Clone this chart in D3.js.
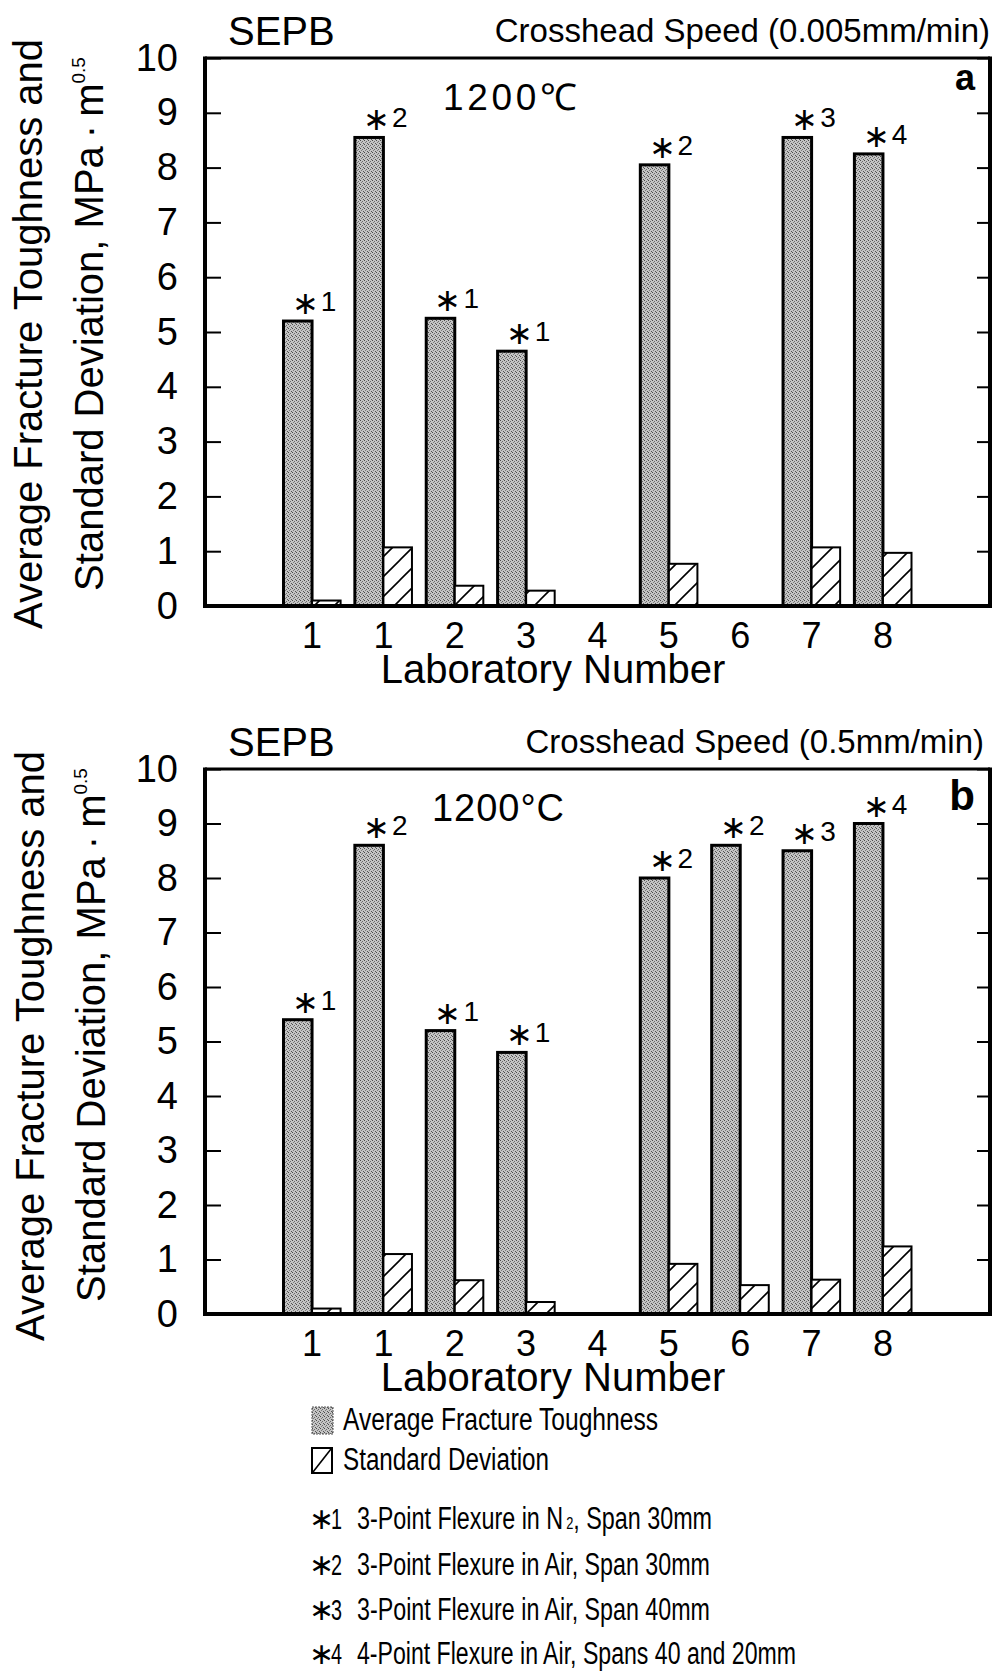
<!DOCTYPE html>
<html><head><meta charset="utf-8">
<script src="https://cdn.jsdelivr.net/npm/d3@7"></script>
<style>
body{margin:0;background:#fff}
svg{display:block}
text{font-family:"Liberation Sans",Arial,Helvetica,sans-serif;fill:#000}
</style>
</head><body>
<svg id="chart" width="996" height="1671"></svg>
<script>
// ---------- data ----------
const labLabels = ["1","1","2","3","4","5","6","7","8"];
const yTicks = [0,1,2,3,4,5,6,7,8,9,10];
// panel a : crosshead speed 0.005 mm/min
const avgA   = [5.2, 8.55, 5.25, 4.65, 0, 8.05, 0, 8.55, 8.25];
const sdA    = [0.1, 1.07, 0.37, 0.28, 0, 0.77, 0, 1.07, 0.97];
const notesA = ["1","2","1","1","","2","","3","4"];
// panel b : crosshead speed 0.5 mm/min
const avgB   = [5.4, 8.6, 5.2, 4.8, 0, 8.0, 8.6, 8.5, 9.0];
const sdB    = [0.1, 1.1, 0.62, 0.22, 0, 0.92, 0.53, 0.63, 1.24];
const notesB = ["1","2","1","1","","2","2","3","4"];
const legendSeries = ["Average Fracture Toughness","Standard Deviation"];
const noteKeys  = ["1","2","3","4"];
const noteTexts = ["3-Point Flexure in N|2|, Span 30mm","3-Point Flexure in Air, Span 30mm","3-Point Flexure in Air, Span 40mm","4-Point Flexure in Air, Spans 40 and 20mm"];

// ---------- drawing ----------
const svg = d3.select("#chart");
svg.append("rect").attr("width",996).attr("height",1671).attr("fill","#fff");
const defs = svg.append("defs");
const st = defs.append("pattern").attr("id","stipple").attr("width",4).attr("height",4).attr("patternUnits","userSpaceOnUse");
st.append("rect").attr("width",4).attr("height",4).attr("fill","#c4c4c4");
[[0,0,"#4a4a4a"],[2,1,"#6a6a6a"],[1,2,"#7a7a7a"],[3,3,"#555"]].forEach(p=>st.append("rect").attr("x",p[0]).attr("y",p[1]).attr("width",1).attr("height",1).attr("fill",p[2]));
const ht = defs.append("pattern").attr("id","hatch").attr("width",20).attr("height",20).attr("patternUnits","userSpaceOnUse");
ht.append("rect").attr("width",20).attr("height",20).attr("fill","#fff");
ht.append("path").attr("d","M0,20L20,0M-5,5L5,-5M15,25L25,15").attr("stroke","#000").attr("stroke-width",1.6);

const L = 205, R = 990;

function drawPanel(cfg){
  const g = svg.append("g");
  const x0 = d3.scaleBand().domain(d3.range(labLabels.length)).range([L,R]).paddingInner(0.2).paddingOuter(1.1);
  const x1 = d3.scaleBand().domain(["avg","sd"]).range([0,x0.bandwidth()]);
  const y = d3.scaleLinear().domain([0,10]).range([cfg.bottom,cfg.top]);
  const rows = labLabels.map((l,i)=>({i,avg:cfg.avg[i],sd:cfg.sd[i],note:cfg.notes[i]}));

  g.selectAll(".avg").data(rows.filter(d=>d.avg>0)).join("rect").attr("class","avg")
    .attr("x",d=>x0(d.i)+x1("avg")).attr("y",d=>y(d.avg))
    .attr("width",x1.bandwidth()).attr("height",d=>y(0)-y(d.avg))
    .attr("fill","url(#stipple)").attr("stroke","#000").attr("stroke-width",3);
  g.selectAll(".sd").data(rows.filter(d=>d.sd>0)).join("rect").attr("class","sd")
    .attr("x",d=>x0(d.i)+x1("sd")).attr("y",d=>y(d.sd))
    .attr("width",x1.bandwidth()).attr("height",d=>y(0)-y(d.sd))
    .attr("fill","url(#hatch)").attr("stroke","#000").attr("stroke-width",2);

  const nt = g.selectAll(".note").data(rows.filter(d=>d.note)).join("text").attr("class","note")
    .attr("x",d=>x0(d.i)+x0.bandwidth()/2+2).attr("y",d=>y(d.avg)-10)
    .attr("text-anchor","middle").attr("font-size",28);
  nt.append("tspan").attr("font-size",32).attr("dy",3).text("\u2217");
  nt.append("tspan").attr("dx",2).attr("dy",-3).text(d=>d.note);

  // axes
  const ya = g.append("g").attr("transform",`translate(${L},0)`)
    .call(d3.axisLeft(y).tickValues(yTicks).tickSize(-16).tickPadding(27));
  ya.select(".domain").remove();
  ya.selectAll("line").attr("stroke-width",2);
  ya.selectAll("text").attr("font-size",38).attr("font-family",null);
  const yr = g.append("g").attr("transform",`translate(${R},0)`)
    .call(d3.axisRight(y).tickValues(yTicks).tickSize(-13).tickFormat(""));
  yr.select(".domain").remove();
  yr.selectAll("line").attr("stroke-width",2);
  const xa = g.append("g").attr("transform",`translate(0,${cfg.bottom})`)
    .call(d3.axisBottom(x0).tickSize(0).tickPadding(16).tickFormat(i=>labLabels[i]));
  xa.select(".domain").remove();
  xa.selectAll("text").attr("font-size",36).attr("font-family",null);

  // frame
  g.append("line").attr("x1",L).attr("x2",R).attr("y1",cfg.top).attr("y2",cfg.top).attr("stroke","#000").attr("stroke-width",3);
  g.append("line").attr("x1",L).attr("x2",L).attr("y1",cfg.top-1.5).attr("y2",cfg.bottom+2).attr("stroke","#000").attr("stroke-width",4);
  g.append("line").attr("x1",R).attr("x2",R).attr("y1",cfg.top-1.5).attr("y2",cfg.bottom+2).attr("stroke","#000").attr("stroke-width",4);
  g.append("line").attr("x1",L).attr("x2",R).attr("y1",cfg.bottom).attr("y2",cfg.bottom).attr("stroke","#000").attr("stroke-width",4);

  // texts
  g.append("text").attr("x",553).attr("y",cfg.bottom+77).attr("text-anchor","middle").attr("font-size",40).text("Laboratory Number");
  g.append("text").attr("x",228).attr("y",cfg.top-13).attr("font-size",40).text("SEPB");
  g.append("text").attr("x",cfg.speedX).attr("y",cfg.top-16).attr("text-anchor","end").attr("font-size",33).text(cfg.speed);
  g.append("text").attr("x",cfg.tempX).attr("y",cfg.top+cfg.tempDy).attr("font-size",cfg.tempSize)
    .attr("textLength",cfg.tempW).attr("lengthAdjust","spacing").text(cfg.temp);
  g.append("text").attr("x",975).attr("y",cfg.top+cfg.letterDy).attr("text-anchor","end").attr("font-size",cfg.letterSize).attr("font-weight","bold").text(cfg.letter);

  g.append("text").attr("transform",`translate(${cfg.t1x},${cfg.t1y}) rotate(-90)`).attr("text-anchor","middle").attr("font-size",40)
    .text("Average Fracture Toughness and");
  const t2 = g.append("text").attr("transform",`translate(${cfg.t2x},${cfg.t2y}) rotate(-90)`).attr("text-anchor","middle").attr("font-size",40);
  t2.append("tspan").text("Standard Deviation, MPa\u2009\u00b7\u2009m");
  t2.append("tspan").attr("font-size",19).attr("dy",-18).text("0.5");
}

drawPanel({avg:avgA,sd:sdA,notes:notesA,top:58,bottom:606,speed:"Crosshead Speed (0.005mm/min)",speedX:990,
  temp:"1200\u2103",tempX:443,tempDy:52,tempSize:37,tempW:134,letter:"a",letterDy:32,letterSize:36,t1x:42,t1y:334,t2x:103,t2y:324});
drawPanel({avg:avgB,sd:sdB,notes:notesB,top:769,bottom:1314,speed:"Crosshead Speed (0.5mm/min)",speedX:984,
  temp:"1200\u00b0C",tempX:432,tempDy:52,tempSize:38,tempW:132,letter:"b",letterDy:41,letterSize:42,t1x:44,t1y:1046,t2x:105,t2y:1035});

// legend
const lg = svg.append("g");
lg.append("rect").attr("x",312).attr("y",1407).attr("width",21).attr("height",27).attr("fill","url(#stipple)").attr("stroke","#555").attr("stroke-width",1).attr("stroke-dasharray","2,1");
lg.append("rect").attr("x",312).attr("y",1448).attr("width",20).attr("height",25).attr("fill","#fff").attr("stroke","#000").attr("stroke-width",2);
lg.append("line").attr("x1",313).attr("y1",1472).attr("x2",331).attr("y2",1449).attr("stroke","#000").attr("stroke-width",1.6);
const legW = [315,206];
legendSeries.forEach((s,k)=>{
  lg.append("text").attr("x",343).attr("y",1430+40*k).attr("font-size",31)
    .attr("textLength",legW[k]).attr("lengthAdjust","spacingAndGlyphs").text(s);
});
const noteW = [355,353,353,439];
const noteY = [1529,1575,1620,1664];
noteKeys.forEach((k,j)=>{
  lg.append("text").attr("x",321).attr("y",noteY[j]).attr("text-anchor","middle").attr("font-size",30).text("\u2217");
  lg.append("text").attr("x",331).attr("y",noteY[j]).attr("font-size",29).attr("textLength",11).attr("lengthAdjust","spacingAndGlyphs").text(k);
  const t = lg.append("text").attr("x",357).attr("y",noteY[j]).attr("font-size",31)
    .attr("textLength",noteW[j]).attr("lengthAdjust","spacingAndGlyphs");
  const parts = noteTexts[j].split("|");
  t.append("tspan").text(parts[0]);
  if(parts.length>1){
    t.append("tspan").attr("font-size",17).attr("dx",4).text(parts[1]);
    t.append("tspan").text(parts[2]);
  }
});
</script>
</body></html>
